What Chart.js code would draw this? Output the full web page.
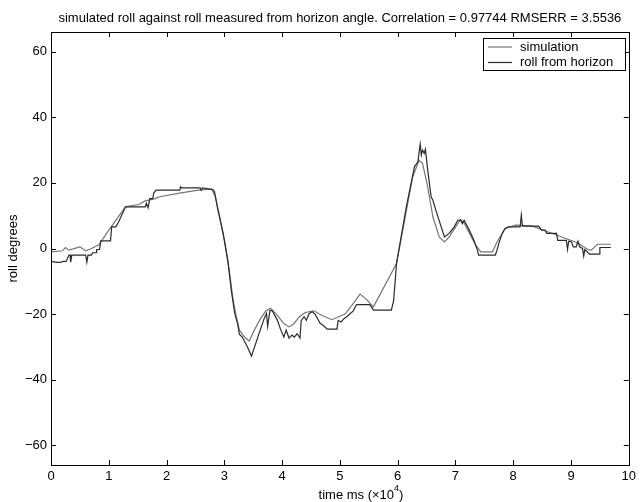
<!DOCTYPE html>
<html>
<head>
<meta charset="utf-8">
<script src="https://cdn.jsdelivr.net/npm/chart.js@4.4.1/dist/chart.umd.min.js"></script>
<style>
  html, body { margin: 0; padding: 0; background: #fff; }
</style>
</head>
<body>
<canvas id="rollChart" width="640" height="502"></canvas>
<script>
// time in units of 10^4 ms
const simTime = [0.00, 0.20, 0.25, 0.31, 0.50, 0.60, 0.70, 0.83, 1.00, 1.29, 1.52, 1.63, 1.80, 1.86, 2.20, 2.55, 2.78, 2.84, 2.91, 3.00,
  3.08, 3.15, 3.21, 3.26, 3.35, 3.43, 3.53, 3.63, 3.72, 3.80, 3.90, 4.03, 4.12, 4.20, 4.30, 4.40, 4.55, 4.70, 4.86, 5.09,
  5.22, 5.35, 5.46, 5.58, 5.98, 6.26, 6.37, 6.43, 6.52, 6.61, 6.72, 6.81, 6.89, 7.04, 7.09, 7.15, 7.35, 7.44, 7.64, 7.72,
  7.86, 8.04, 8.32, 8.55, 8.84, 9.12, 9.29, 9.35, 9.46, 9.69];
const simRoll = [-1.0, -0.7, 0.3, -0.5, 0.5, -0.7, 0.0, 1.1, 5.6, 12.7, 13.4, 14.5, 15.2, 15.7, 16.8, 17.8, 18.1, 16.0, 10.5, 2.5,
  -6.0, -15.5, -21.0, -24.9, -27.0, -28.2, -24.5, -21.3, -19.0, -18.2, -20.0, -22.9, -23.9, -23.0, -20.8, -19.5, -19.0, -20.5, -21.7, -20.0,
  -17.0, -13.9, -15.5, -17.8, -4.6, 21.8, 26.9, 26.0, 18.8, 9.6, 3.5, 2.0, 3.5, 7.6, 8.7, 7.8, 1.0, -1.0, -1.0, 2.0,
  6.1, 7.1, 6.9, 5.4, 3.5, 1.7, -0.3, -0.5, 1.3, 1.3];

const horizonTime = [0.00, 0.10, 0.17, 0.21, 0.26, 0.31, 0.33, 0.34, 0.36, 0.60, 0.62, 0.64, 0.70, 0.72, 0.78, 0.79, 0.84, 0.86, 1.03, 1.05,
  1.12, 1.17, 1.29, 1.63, 1.65, 1.68, 1.71, 1.76, 1.78, 1.82, 2.23, 2.24, 2.26, 2.58, 2.60, 2.62, 2.80, 2.83, 2.89, 2.98,
  3.06, 3.12, 3.18, 3.23, 3.26, 3.31, 3.40, 3.47, 3.58, 3.69, 3.73, 3.75, 3.79, 3.83, 3.92, 3.97, 4.03, 4.07, 4.12, 4.17,
  4.21, 4.26, 4.31, 4.33, 4.38, 4.42, 4.47, 4.52, 4.57, 4.66, 4.71, 4.78, 4.95, 4.97, 5.02, 5.07, 5.12, 5.18, 5.23, 5.29,
  5.52, 5.58, 5.89, 5.93, 5.98, 6.09, 6.15, 6.29, 6.35, 6.39, 6.41, 6.43, 6.46, 6.48, 6.52, 6.58, 6.61, 6.66, 6.81, 6.89,
  6.98, 7.04, 7.09, 7.12, 7.15, 7.24, 7.32, 7.38, 7.40, 7.69, 7.72, 7.75, 7.81, 7.86, 7.92, 8.12, 8.14, 8.16, 8.44, 8.49,
  8.55, 8.58, 8.75, 8.77, 8.92, 8.94, 8.96, 9.01, 9.04, 9.09, 9.12, 9.15, 9.20, 9.22, 9.24, 9.32, 9.49, 9.50, 9.69];
const horizonRoll = [-3.9, -4.2, -4.2, -3.9, -4.0, -2.0, -2.0, -4.2, -2.0, -2.0, -4.2, -2.0, -2.0, -1.3, -1.3, -0.3, -0.3, 2.3, 2.3, 6.6,
  6.6, 8.1, 12.7, 12.7, 13.8, 12.4, 15.2, 15.2, 17.0, 17.8, 17.8, 18.8, 18.5, 18.5, 17.8, 18.5, 18.0, 17.3, 11.7, 4.6,
  -3.6, -12.7, -19.8, -22.9, -26.1, -27.0, -30.0, -32.8, -27.0, -21.3, -19.8, -23.7, -18.8, -19.0, -21.9, -24.5, -27.0, -24.9, -27.3, -26.4,
  -27.0, -26.0, -27.3, -22.0, -20.8, -21.9, -19.8, -19.3, -20.0, -22.9, -23.4, -24.6, -24.6, -21.9, -22.4, -21.4, -20.8, -19.8, -19.1, -17.1,
  -17.1, -18.8, -18.8, -16.0, -4.6, 6.6, 12.7, 24.9, 26.4, 31.8, 28.5, 30.0, 29.0, 30.3, 23.9, 15.7, 14.7, 11.7, 3.5, 4.6,
  6.6, 8.6, 8.7, 7.6, 8.6, 5.6, 2.5, -0.5, -2.0, -2.0, -0.5, 1.5, 4.6, 6.1, 6.6, 6.6, 10.2, 6.8, 6.8, 5.6,
  5.6, 4.6, 4.6, 2.5, 2.5, -0.3, 2.2, 2.0, 0.5, 0.5, 2.2, 0.5, 0.0, -2.3, -0.3, -1.7, -1.7, 0.3, 0.3];

const xTicks = [0, 1, 2, 3, 4, 5, 6, 7, 8, 9, 10];
const yTicks = [-60, -40, -20, 0, 20, 40, 60];
const seriesNames = ['simulation', 'roll from horizon'];

const FONT = '"Liberation Sans", Arial, Helvetica, sans-serif';

const toPoints = (xs, ys) => xs.map((x, i) => ({ x: x, y: ys[i] }));

// matlab style box: inward ticks on all four sides, title, labels, legend
const matlabBox = {
  id: 'matlabBox',
  afterDraw(chart) {
    const ctx = chart.ctx;
    const a = chart.chartArea;
    const xs = chart.scales.x;
    const ys = chart.scales.y;
    const tl = 5;

    ctx.save();
    ctx.strokeStyle = '#000';
    ctx.lineWidth = 1;
    ctx.strokeRect(Math.round(a.left) + 0.5, Math.round(a.top) + 0.5,
      Math.round(a.right - a.left), Math.round(a.bottom - a.top));

    ctx.beginPath();
    xTicks.forEach(v => {
      const px = Math.round(xs.getPixelForValue(v)) + 0.5;
      ctx.moveTo(px, a.bottom); ctx.lineTo(px, a.bottom - tl);
      ctx.moveTo(px, a.top); ctx.lineTo(px, a.top + tl);
    });
    yTicks.forEach(v => {
      const py = Math.round(ys.getPixelForValue(v)) + 0.5;
      ctx.moveTo(a.left, py); ctx.lineTo(a.left + tl, py);
      ctx.moveTo(a.right, py); ctx.lineTo(a.right - tl, py);
    });
    ctx.stroke();

    // title
    ctx.fillStyle = '#000';
    ctx.font = '13px ' + FONT;
    ctx.textAlign = 'center';
    ctx.textBaseline = 'middle';
    ctx.fillText('simulated roll against roll measured from horizon angle. Correlation = 0.97744 RMSERR = 3.5536',
      (a.left + a.right) / 2, 18);

    // y label
    ctx.save();
    ctx.translate(13, (a.top + a.bottom) / 2);
    ctx.rotate(-Math.PI / 2);
    ctx.fillText('roll degrees', 0, 0);
    ctx.restore();

    // x label with superscript
    const main = 'time ms (\u00d710';
    const sup = '4';
    const tail = ')';
    ctx.font = '13px ' + FONT;
    const w1 = ctx.measureText(main).width;
    const w3 = ctx.measureText(tail).width;
    ctx.font = '9px ' + FONT;
    const w2 = ctx.measureText(sup).width;
    let x0 = 361 - (w1 + w2 + w3) / 2;
    ctx.textAlign = 'left';
    ctx.font = '13px ' + FONT;
    ctx.fillText(main, x0, 495);
    ctx.font = '9px ' + FONT;
    ctx.fillText(sup, x0 + w1, 489);
    ctx.font = '13px ' + FONT;
    ctx.fillText(tail, x0 + w1 + w2, 495);

    // legend
    const lx = 483.5, ly = 38.5, lw = 142, lh = 32;
    ctx.fillStyle = '#fff';
    ctx.fillRect(lx, ly, lw, lh);
    ctx.strokeStyle = '#000';
    ctx.strokeRect(lx, ly, lw, lh);
    chart.data.datasets.forEach((ds, i) => {
      const yy = 47 + i * 15.5;
      ctx.strokeStyle = ds.borderColor;
      ctx.lineWidth = 1.2;
      ctx.beginPath();
      ctx.moveTo(488, yy); ctx.lineTo(512, yy);
      ctx.stroke();
      ctx.fillStyle = '#000';
      ctx.font = '13px ' + FONT;
      ctx.textAlign = 'left';
      ctx.fillText(ds.label, 520, yy);
    });
    ctx.restore();
  }
};

new Chart(document.getElementById('rollChart'), {
  type: 'line',
  data: {
    datasets: [
      {
        label: seriesNames[0],
        data: toPoints(simTime, simRoll),
        borderColor: '#757575',
        borderWidth: 1.2,
        pointRadius: 0,
        tension: 0,
        order: 1
      },
      {
        label: seriesNames[1],
        data: toPoints(horizonTime, horizonRoll),
        borderColor: '#2b2b2b',
        borderWidth: 1.2,
        pointRadius: 0,
        tension: 0,
        order: 0
      }
    ]
  },
  options: {
    responsive: false,
    devicePixelRatio: 1,
    animation: false,
    layout: { padding: { top: 32, right: 5, left: 0, bottom: 0 } },
    plugins: {
      legend: { display: false },
      title: { display: false },
      tooltip: { enabled: false }
    },
    scales: {
      x: {
        type: 'linear',
        min: 0,
        max: 10,
        afterBuildTicks: (scale) => { scale.ticks = xTicks.map(v => ({ value: v })); },
        afterFit: (scale) => { scale.height = 37; },
        grid: { display: false, drawTicks: false },
        border: { display: false },
        ticks: { color: '#000', padding: 4, maxRotation: 0, font: { family: FONT, size: 13 } }
      },
      y: {
        min: -66,
        max: 66,
        afterBuildTicks: (scale) => { scale.ticks = yTicks.map(v => ({ value: v })); },
        afterFit: (scale) => { scale.width = 51; },
        grid: { display: false, drawTicks: false },
        border: { display: false },
        ticks: {
          color: '#000',
          padding: 4,
          font: { family: FONT, size: 13 },
          callback: (v) => String(v).replace('-', '\u2212')
        }
      }
    }
  },
  plugins: [matlabBox]
});
</script>
</body>
</html>
